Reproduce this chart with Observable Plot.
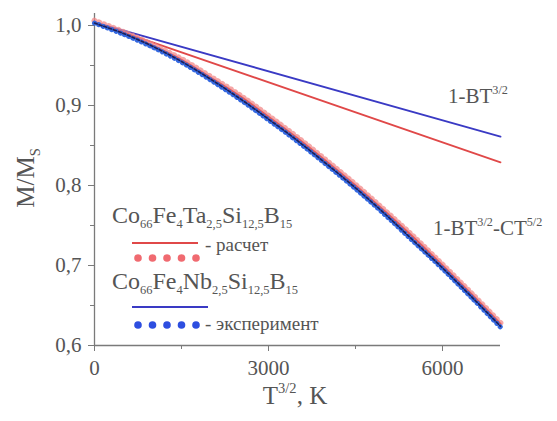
<!DOCTYPE html>
<html>
<head>
<meta charset="utf-8">
<script src="https://cdn.jsdelivr.net/npm/d3@7"></script>
<script src="https://cdn.jsdelivr.net/npm/@observablehq/plot@0.6"></script>
<style>
  html, body { margin: 0; padding: 0; background: #fff; }
  #chart svg { display: block; }
  #chart svg text { font-family: "Liberation Serif", "Times New Roman", "DejaVu Serif", serif; }
</style>
</head>
<body>
<div id="chart"></div>
<script>
// ---- data ----
const xTicks = [0, 3000, 6000];
const xMinor = [1500, 4500];
const yTicks = [0.6, 0.7, 0.8, 0.9, 1.0];
const yMinor = [0.65, 0.75, 0.85, 0.95];

// T^{3/2} sample positions
const T32 = [0, 500, 1000, 1500, 2000, 2500, 3000, 3500, 4000, 4500, 5000, 5500, 6000, 6500, 7000];
// lower curves 1-BT^{3/2}-CT^{5/2}
const taCalc = [1.004, 0.991, 0.975, 0.957, 0.935, 0.912, 0.886, 0.859, 0.830, 0.800, 0.768, 0.735, 0.700, 0.664, 0.627];
const taExp  = [1.006, 0.992, 0.976, 0.958, 0.936, 0.913, 0.887, 0.860, 0.831, 0.801, 0.769, 0.736, 0.701, 0.665, 0.628];
const nbCalc = [1.003, 0.990, 0.974, 0.955, 0.933, 0.909, 0.883, 0.856, 0.827, 0.797, 0.765, 0.731, 0.697, 0.661, 0.624];
const nbExp  = [1.003, 0.989, 0.973, 0.954, 0.932, 0.908, 0.882, 0.855, 0.826, 0.796, 0.764, 0.730, 0.696, 0.660, 0.623];
// straight lines 1-BT^{3/2}
const lineX  = [0, 7000];
const taLin  = [1.004, 0.829];
const nbLin  = [1.004, 0.861];

// text
const yTitle = [["M/M", "n"], ["S", "sub"]];
const xTitle = [["T", "n"], ["3/2", "sup"], [", K", "n"]];
const ann1 = [["1-BT", "n"], ["3/2", "sup"]];
const ann2 = [["1-BT", "n"], ["3/2", "sup"], ["-CT", "n"], ["5/2", "sup"]];
const alloyTa = [["Co", "n"], ["66", "sub"], ["Fe", "n"], ["4", "sub"], ["Ta", "n"], ["2,5", "sub"], ["Si", "n"], ["12,5", "sub"], ["B", "n"], ["15", "sub"]];
const alloyNb = [["Co", "n"], ["66", "sub"], ["Fe", "n"], ["4", "sub"], ["Nb", "n"], ["2,5", "sub"], ["Si", "n"], ["12,5", "sub"], ["B", "n"], ["15", "sub"]];
const labCalc = "- расчет";
const labExp = "- эксперимент";

const RED = "#e04848", BLUE = "#3a3ac4", AX = "#7a7a7a", TXT = "#555";
const FONT = "'Liberation Serif', 'Times New Roman', 'DejaVu Serif', serif";

const tab = (ys) => T32.map((x, i) => ({x, y: ys[i]}));
const lin = (ys) => lineX.map((x, i) => ({x, y: ys[i]}));
const fmt = d => d3.format(".1f")(d).replace(".", ",");

const chart = Plot.plot({
  width: 557, height: 421,
  marginLeft: 94, marginRight: 57, marginTop: 13, marginBottom: 76,
  style: {fontFamily: FONT, fontSize: "20px", color: TXT, background: "#fff"},
  x: {domain: [0, 7000]},
  y: {domain: [0.6, 1.015]},
  marks: [
    Plot.axisX({ticks: xTicks, tickSize: 6, tickPadding: 9, tickFormat: d => String(d), label: null, stroke: AX, fill: TXT, fontSize: 21}),
    Plot.axisX({ticks: xMinor, tickSize: 4, tickFormat: () => "", label: null, stroke: AX}),
    Plot.axisY({ticks: yTicks, tickSize: 6, tickPadding: 7, tickFormat: fmt, label: null, stroke: AX, fill: TXT, fontSize: 21}),
    Plot.axisY({ticks: yMinor, tickSize: 4, tickFormat: () => "", label: null, stroke: AX}),
    Plot.ruleX([0], {stroke: AX, strokeWidth: 1.3}),
    Plot.ruleY([0.6], {stroke: AX, strokeWidth: 1.3}),
    // straight lines
    Plot.line(lin(nbLin), {x: "x", y: "y", stroke: BLUE, strokeWidth: 1.8}),
    Plot.line(lin(taLin), {x: "x", y: "y", stroke: RED, strokeWidth: 1.8}),
    // lower curves
    Plot.line(tab(taExp), {x: "x", y: "y", curve: "catmull-rom", stroke: "#f28a8a", strokeWidth: 6, strokeOpacity: 0.75, strokeLinecap: "round", strokeDasharray: "0.1,5"}),
    Plot.line(tab(taCalc), {x: "x", y: "y", curve: "catmull-rom", stroke: RED, strokeWidth: 2, strokeOpacity: 0.8}),
    Plot.line(tab(nbExp), {x: "x", y: "y", curve: "catmull-rom", stroke: "#3468e0", strokeWidth: 5, strokeLinecap: "round", strokeDasharray: "0.1,4.5"}),
    Plot.line(tab(nbCalc), {x: "x", y: "y", curve: "catmull-rom", stroke: "#1e1e55", strokeWidth: 1.6, strokeDasharray: "3,2"})
  ]
});
document.getElementById("chart").appendChild(chart);

// ---- rich text helpers ----
const svg = d3.select(chart);
function rich(x, y, parts, size, opts = {}) {
  const t = svg.append("text")
    .attr("x", x).attr("y", y)
    .style("font-family", FONT).attr("font-size", size)
    .attr("fill", TXT).attr("text-anchor", opts.anchor || "start");
  if (opts.rotate) t.attr("transform", `rotate(-90 ${x} ${y})`);
  let shift = 0;
  const subSize = opts.subSize || 0.58;
  const subShift = opts.subShift || 0.25;
  for (const [s, kind] of parts) {
    const target = kind === "sub" ? size * subShift : kind === "sup" ? -size * 0.45 : 0;
    t.append("tspan")
      .attr("dy", target - shift)
      .attr("font-size", kind === "n" ? size : size * subSize)
      .text(s);
    shift = target;
  }
  return t;
}

// axis titles
rich(34, 178, yTitle, 25, {anchor: "middle", rotate: true});
rich(295, 404, xTitle, 25, {anchor: "middle"});

// annotations
rich(448, 103, ann1, 21);
rich(433, 235, ann2, 21);

// legend
rich(112, 223, alloyTa, 24, {subSize: 0.52, subShift: 0.2});
rich(112, 289, alloyNb, 24, {subSize: 0.52, subShift: 0.2});
const leg = svg.append("g");
leg.append("line").attr("x1", 132).attr("x2", 198).attr("y1", 243).attr("y2", 243).attr("stroke", RED).attr("stroke-width", 2.2);
leg.append("line").attr("x1", 132).attr("x2", 208).attr("y1", 307).attr("y2", 307).attr("stroke", BLUE).attr("stroke-width", 2.2);
[0, 1, 2, 3, 4].forEach(i => {
  leg.append("circle").attr("cx", 138 + i * 14.5).attr("cy", 258).attr("r", 3.8).attr("fill", "#ee5a60").attr("opacity", 0.9);
  leg.append("circle").attr("cx", 138 + i * 14.5).attr("cy", 325).attr("r", 3.8).attr("fill", "#2d4ee0");
});
rich(205, 251, [[labCalc, "n"]], 19);
rich(205, 330, [[labExp, "n"]], 19);
</script>
</body>
</html>
